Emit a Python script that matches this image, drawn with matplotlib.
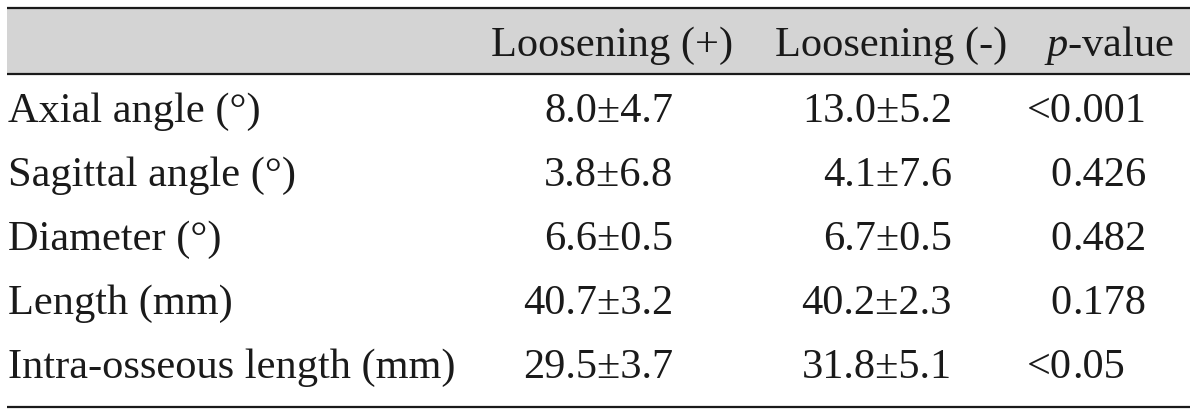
import matplotlib
matplotlib.use("Agg")
import matplotlib.pyplot as plt
from matplotlib.patches import Rectangle

# --- table content --- #
headers = ["Loosening (+)", "Loosening (-)", "$p$-value"]
row_labels = [
    "Axial angle (°)",
    "Sagittal angle (°)",
    "Diameter (°)",
    "Length (mm)",
    "Intra-osseous length (mm)",
]
loosening_pos = ["8.0±4.7", "3.8±6.8", "6.6±0.5", "40.7±3.2", "29.5±3.7"]
loosening_neg = ["13.0±5.2", "4.1±7.6", "6.7±0.5", "40.2±2.3", "31.8±5.1"]
p_values = ["<0.001", "0.426", "0.482", "0.178", "<0.05"]

plt.rcParams["font.family"] = ["Liberation Serif", "DejaVu Serif"]
plt.rcParams["mathtext.fontset"] = "custom"
plt.rcParams["mathtext.rm"] = "Liberation Serif"
plt.rcParams["mathtext.it"] = "Liberation Serif:italic"

ink = "#1a1a1a"
fs = 30.5

fig = plt.figure(figsize=(12, 4.16), dpi=100)
ax = fig.add_axes([0, 0, 1, 1])
ax.set_xlim(0, 1200)
ax.set_ylim(416, 0)
ax.axis("off")

# header band and rules
ax.add_patch(Rectangle((7, 8), 1183, 66, facecolor="#d4d4d4", edgecolor="none"))
ax.hlines([8, 74, 407], 7, 1190, color=ink, lw=1.6)

# header row
head_y = 56
ax.text(612, head_y, headers[0], ha="center", va="baseline", fontsize=fs, color=ink)
ax.text(891, head_y, headers[1], ha="center", va="baseline", fontsize=fs, color=ink)
ax.text(1174, head_y, headers[2], ha="right", va="baseline", fontsize=fs, color=ink)

# body rows
row_y0, row_step = 122, 64
dec_x = 1072  # p-values aligned on the decimal point
for i, label in enumerate(row_labels):
    y = row_y0 + i * row_step
    ax.text(8, y, label, ha="left", va="baseline", fontsize=fs, color=ink)
    ax.text(673, y, loosening_pos[i], ha="right", va="baseline", fontsize=fs, color=ink)
    ax.text(952, y, loosening_neg[i], ha="right", va="baseline", fontsize=fs, color=ink)
    head, tail = p_values[i].split(".")
    ax.text(dec_x, y, head, ha="right", va="baseline", fontsize=fs, color=ink)
    ax.text(dec_x, y, "." + tail, ha="left", va="baseline", fontsize=fs, color=ink)

fig.savefig("out.png", dpi=100)
